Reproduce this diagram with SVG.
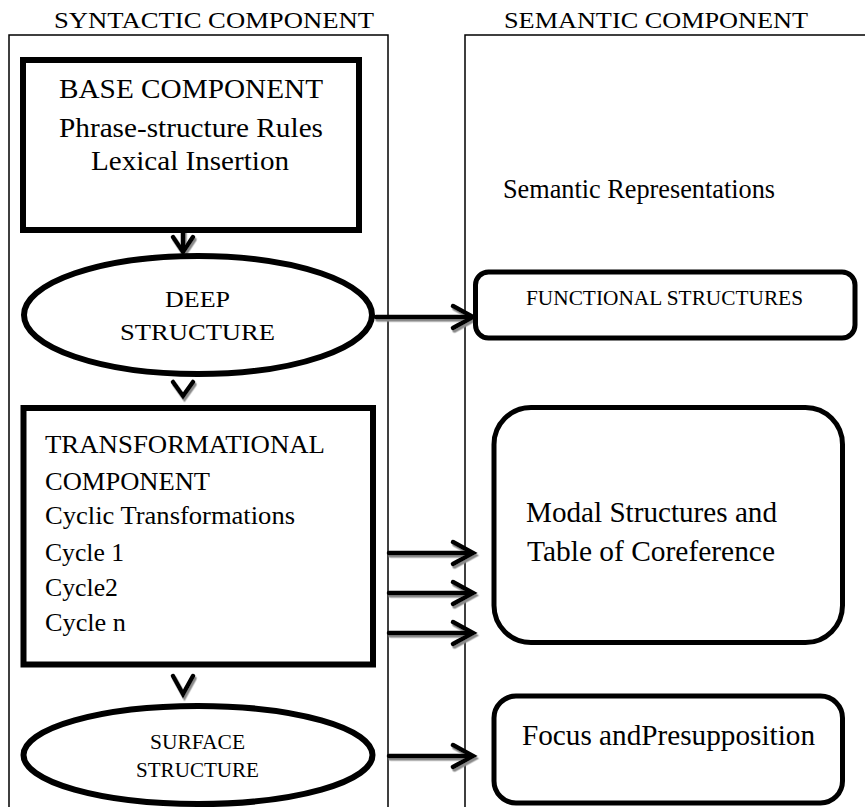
<svg xmlns="http://www.w3.org/2000/svg" width="865" height="807" viewBox="0 0 865 807">
<defs>
<style>
text{font-family:'Liberation Serif','Times New Roman',Times,'Nimbus Roman',serif;fill:#000}
.cont{fill:none;stroke:#000;stroke-width:1.5}
.box{fill:#fff;stroke:#000;stroke-width:6}
.rbox{fill:#fff;stroke:#000;stroke-width:5}
.conn path{fill:none;stroke:#000;stroke-width:4.5;stroke-linecap:round;stroke-linejoin:miter}
</style>
<filter id="sh" x="-20%" y="-20%" width="140%" height="160%">
<feDropShadow dx="1.5" dy="2.5" stdDeviation="0.4" flood-color="#8a8a8a" flood-opacity="1"/>
</filter>
</defs>
<rect width="865" height="807" fill="#fff"/>

<g id="syntactic" font-family="Liberation Serif">
<rect class="cont" x="9" y="35" width="379" height="800"/>
<text x="54" y="28" font-size="24" textLength="320" lengthAdjust="spacingAndGlyphs">SYNTACTIC COMPONENT</text>
</g>
<g id="semantic" font-family="Liberation Serif">
<rect class="cont" x="465" y="35" width="420" height="800"/>
<text x="504" y="28" font-size="24" textLength="304" lengthAdjust="spacingAndGlyphs">SEMANTIC COMPONENT</text>
<text x="503" y="198" font-size="27" textLength="272" lengthAdjust="spacingAndGlyphs">Semantic Representations</text>
</g>

<g class="conn" filter="url(#sh)">
<path d="M183,231 V250"/>
<path d="M173,237 L183,252 L193,237"/>
<path d="M173,382 L183,396 L193,382"/>
<path d="M173,676 L183,694 L193,676"/>
<path d="M376,317 H471"/>
<path d="M453,306 L473,317 L453,328"/>
<path d="M389,553 H471"/>
<path d="M453,542 L473,553 L453,564"/>
<path d="M389,593 H471"/>
<path d="M453,582 L473,593 L453,604"/>
<path d="M389,633 H471"/>
<path d="M453,622 L473,633 L453,644"/>
<path d="M389,756 H471"/>
<path d="M453,745 L473,756 L453,767"/>
</g>

<g id="base" font-family="Liberation Serif">
<rect class="box" x="23" y="60" width="336" height="170"/>
<text x="59" y="98" font-size="28" textLength="264" lengthAdjust="spacingAndGlyphs">BASE COMPONENT</text>
<text x="59" y="137" font-size="28" textLength="264" lengthAdjust="spacingAndGlyphs">Phrase-structure Rules</text>
<text x="91" y="170" font-size="28" textLength="198" lengthAdjust="spacingAndGlyphs">Lexical Insertion</text>
</g>

<g id="deep" font-family="Liberation Serif">
<ellipse class="box" cx="198" cy="315" rx="174" ry="59"/>
<text x="165" y="307" font-size="23" textLength="65" lengthAdjust="spacingAndGlyphs">DEEP</text>
<text x="120" y="340" font-size="23" textLength="155" lengthAdjust="spacingAndGlyphs">STRUCTURE</text>
</g>

<g id="functional" font-family="Liberation Serif">
<rect class="rbox" x="475.5" y="272" width="379.5" height="66" rx="13"/>
<text x="526" y="305" font-size="21.5" textLength="277" lengthAdjust="spacingAndGlyphs">FUNCTIONAL STRUCTURES</text>
</g>

<g id="transformational" font-family="Liberation Serif">
<rect class="box" x="23.5" y="408" width="349.5" height="256.5"/>
<text x="45" y="453" font-size="25" textLength="280" lengthAdjust="spacingAndGlyphs">TRANSFORMATIONAL</text>
<text x="45" y="490" font-size="25" textLength="165" lengthAdjust="spacingAndGlyphs">COMPONENT</text>
<text x="45" y="524" font-size="25" textLength="250" lengthAdjust="spacingAndGlyphs">Cyclic Transformations</text>
<text x="45" y="561" font-size="25" textLength="79" lengthAdjust="spacingAndGlyphs">Cycle 1</text>
<text x="45" y="596" font-size="25" textLength="73" lengthAdjust="spacingAndGlyphs">Cycle2</text>
<text x="45" y="631" font-size="25" textLength="81" lengthAdjust="spacingAndGlyphs">Cycle n</text>
</g>

<g id="modal" font-family="Liberation Serif">
<rect class="rbox" x="494" y="407.5" width="348.5" height="235" rx="37"/>
<text x="526" y="522" font-size="29" textLength="251" lengthAdjust="spacingAndGlyphs">Modal Structures and</text>
<text x="527" y="561" font-size="29" textLength="248" lengthAdjust="spacingAndGlyphs">Table of Coreference</text>
</g>

<g id="surface" font-family="Liberation Serif">
<ellipse class="box" cx="198" cy="755" rx="174.5" ry="49"/>
<text x="150" y="749" font-size="20" textLength="95" lengthAdjust="spacingAndGlyphs">SURFACE</text>
<text x="136" y="777" font-size="20" textLength="123" lengthAdjust="spacingAndGlyphs">STRUCTURE</text>
</g>

<g id="focus" font-family="Liberation Serif">
<rect class="rbox" x="494" y="696" width="348.5" height="107" rx="22"/>
<text x="522" y="745" font-size="29" textLength="293" lengthAdjust="spacingAndGlyphs">Focus andPresupposition</text>
</g>
</svg>
